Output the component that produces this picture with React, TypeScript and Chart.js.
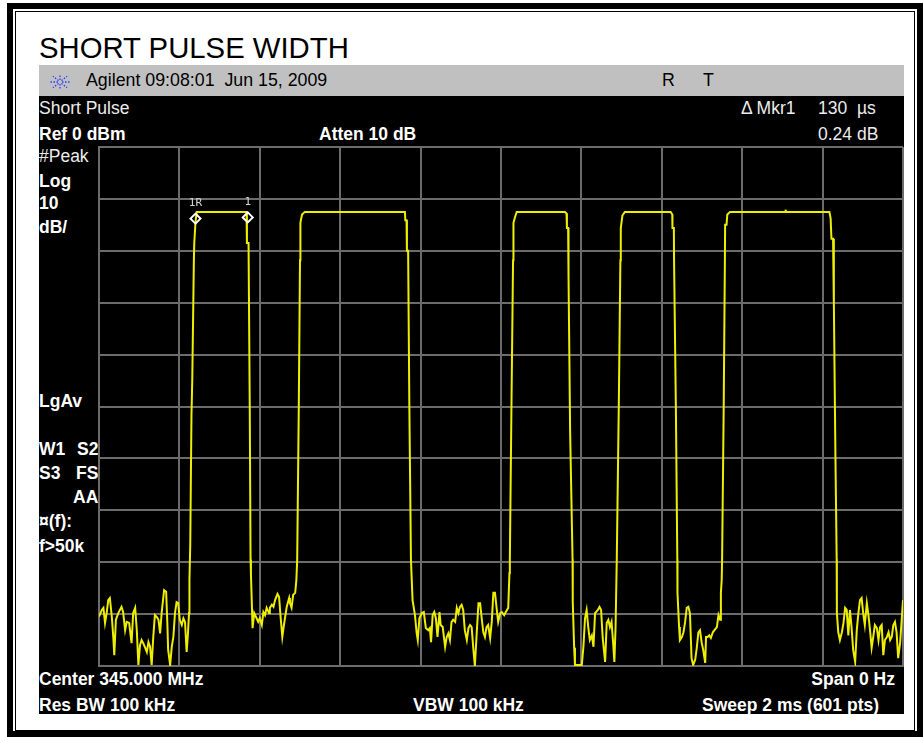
import React, { useEffect, useRef } from "react";
import { Chart, registerables } from "chart.js";

Chart.register(...registerables);

// Time axis: 0..2000 µs (Sweep 2 ms), level axis: Ref 0 dBm, 10 dB/div
const sweepUs = [0, 2000];
const levelDbm = [-100, 0];
const timeStep = 200;
const levelStep = 10;

// Noise floor segments [time µs, level dBm]
const floor1: [number, number][] = [
  [0, -90.5], [7, -89.2], [11, -88.8], [15, -91.7], [19, -89.8], [23, -87.3], [27, -86.9], [32, -90.6],
  [36, -95.0], [38, -97.9], [42, -91.1], [48, -89.8], [56, -88.6], [60, -89.6], [65, -93.1], [69, -91.5],
  [75, -91.7], [81, -95.6], [85, -89.8], [90, -88.8], [94, -93.1], [98, -99.8], [102, -96.0], [106, -95.0],
  [110, -95.6], [114, -96.3], [119, -97.3], [123, -95.4], [127, -96.3], [131, -99.8], [135, -94.4], [139, -90.2],
  [144, -90.6], [148, -91.1], [152, -93.7], [156, -89.6], [162, -85.4], [167, -85.7], [170, -91.7], [172, -96.9],
  [177, -99.8], [181, -96.3], [185, -94.4], [189, -89.8], [193, -87.7], [197, -87.9], [201, -91.1], [206, -92.1],
  [210, -90.8], [214, -91.5], [218, -97.3], [221, -94.1], [224, -89.8],
];
const pulse1: [number, number][] = [
  [225, -83.4], [227, -76.7], [230, -51.8], [232, -44.9], [236, -21.8], [237, -18.5], [240, -14.5], [243, -12.5],
  [367, -12.5], [368, -18.5], [372, -18.5], [375, -50.0], [377, -79.5], [378, -82.4],
];
const floor2: [number, number][] = [
  [382, -92.7], [386, -89.8], [392, -90.8], [396, -91.5], [400, -90.8], [405, -92.1], [409, -89.6], [413, -90.2],
  [417, -88.8], [423, -89.8], [425, -88.8], [430, -88.2], [434, -88.6], [438, -87.3], [444, -86.1], [448, -86.7],
  [452, -90.8], [456, -94.4], [460, -92.1], [467, -88.6], [473, -86.9], [475, -87.9], [479, -88.8], [483, -86.3],
  [488, -85.9],
];
const pulse2: [number, number][] = [
  [491, -83.4], [493, -79.5], [497, -50.0], [500, -21.8], [501, -14.6], [505, -13.0], [512, -12.5],
  [761, -12.5], [762, -14.1], [765, -14.1], [766, -20.0], [769, -20.0], [772, -50.0], [776, -79.5], [777, -81.5],
];
const floor3: [number, number][] = [
  [780, -87.3], [786, -90.2], [790, -93.5], [793, -95.0], [797, -90.8], [803, -89.8], [808, -89.6], [813, -92.7],
  [819, -93.1], [823, -92.7], [826, -95.4], [830, -90.2], [834, -89.6], [838, -90.8], [842, -94.4], [847, -89.6],
  [850, -92.1], [855, -92.5], [861, -96.3], [865, -94.4], [869, -93.7], [873, -95.0], [877, -91.5], [881, -91.1],
  [886, -91.5], [890, -88.8], [894, -89.8], [898, -88.6], [902, -88.2], [906, -89.2], [910, -93.1], [915, -95.0],
  [919, -92.7], [923, -92.1], [927, -92.5], [931, -96.5], [935, -100], [940, -93.1], [944, -87.9], [948, -87.9],
  [952, -90.8], [956, -93.5], [960, -94.4], [964, -92.5], [968, -92.1], [973, -94.6], [977, -91.5], [981, -85.9],
  [985, -85.9], [989, -88.8], [993, -91.5], [998, -89.8], [1002, -89.6], [1008, -90.2], [1012, -89.6], [1018, -88.8],
];
const pulse3: [number, number][] = [
  [1021, -82.1], [1022, -79.5], [1026, -50.0], [1030, -21.8], [1031, -14.6], [1035, -13.5], [1039, -12.5],
  [1159, -12.5], [1163, -12.8], [1164, -15.6], [1167, -15.6], [1168, -25.0], [1172, -55.0], [1178, -79.5], [1178.5, -87.7],
];
const floor4: [number, number][] = [
  [1182, -96.5], [1184, -99.8], [1201, -99.8], [1205, -96.3], [1209, -90.8], [1213, -89.2], [1217, -92.5], [1221, -95.0],
  [1226, -94.1], [1230, -96.3], [1234, -89.8], [1241, -89.2], [1245, -88.6], [1249, -89.2], [1253, -94.6], [1256, -96.9],
  [1259, -99.2], [1263, -91.7], [1267, -91.1], [1271, -92.5], [1275, -91.5], [1279, -95.6], [1282, -99.2], [1285, -92.5],
];
const pulse4: [number, number][] = [
  [1288, -79.5], [1293, -50.0], [1297, -21.8], [1298, -15.6], [1302, -13.2], [1308, -12.5],
  [1422, -12.5], [1426, -13.0], [1426.5, -15.6], [1430, -15.6], [1430.5, -21.8], [1435, -50.0], [1438.6, -79.5], [1439, -85.9],
];
const floor5: [number, number][] = [
  [1443, -92.5], [1445, -95.0], [1450, -94.4], [1454, -93.5], [1458, -91.5], [1462, -88.8], [1466, -88.6], [1470, -89.8],
  [1474, -98.5], [1478, -99.8], [1483, -98.8], [1487, -96.5], [1491, -93.5], [1495, -93.1], [1499, -95.4], [1503, -96.9],
  [1508, -99.4], [1510, -94.4], [1514, -94.4], [1518, -94.1], [1522, -94.6], [1527, -93.5], [1531, -93.1], [1537, -92.5],
  [1541, -90.2], [1545, -91.1], [1547, -85.9], [1549, -83.4],
];
const pulse5: [number, number][] = [
  [1550, -79.5], [1554, -50.0], [1557, -21.2], [1557.5, -15.0], [1561, -15.0], [1563, -13.0], [1570, -12.5],
  [1707, -12.5], [1708, -12.1], [1709, -12.5], [1817, -12.5], [1820, -13.8], [1822, -17.7], [1826, -17.7],
  [1828, -30.0], [1832, -60.0], [1835, -79.5],
];
const floor6: [number, number][] = [
  [1835.5, -89.8], [1839, -93.5], [1843, -95.0], [1848, -93.5], [1852, -91.7], [1856, -88.8], [1860, -89.2], [1864, -94.1],
  [1868, -89.2], [1872, -92.5], [1876, -96.9], [1881, -99.2], [1885, -93.1], [1889, -89.8], [1893, -87.3], [1897, -86.9],
  [1901, -89.8], [1905, -92.1], [1910, -87.9], [1914, -90.2], [1918, -93.1], [1922, -96.5], [1926, -94.4], [1930, -92.1],
  [1935, -92.7], [1939, -95.0], [1943, -92.5], [1947, -92.1], [1951, -97.9], [1955, -95.0], [1960, -94.4], [1964, -93.5],
  [1968, -95.0], [1972, -94.4], [1976, -92.1], [1980, -91.5], [1984, -93.5], [1988, -98.5], [1993, -95.4], [1997, -90.8],
  [2000, -87.3],
];

// Markers: 1R (reference) and 1 (delta 130 µs, 0.24 dB)
const markerNames = ["1R", "1"];
const markerTimes = [240, 370];
const markerLevels = [-13.8, -13.56];

const segments = [floor1, pulse1, floor2, pulse2, floor3, pulse3, floor4, pulse4, floor5, pulse5, floor6];

const GRID = "#6c6c6c";
const TRACE = "#eeee00";

const markerLabelPlugin = {
  id: "markerLabels",
  afterDatasetsDraw(chart: any) {
    const meta = chart.getDatasetMeta(0);
    const ctx = chart.ctx;
    ctx.save();
    ctx.font = '11px "DejaVu Sans Mono", monospace';
    ctx.fillStyle = "#d4d4d4";
    ctx.textAlign = "center";
    ctx.textBaseline = "bottom";
    meta.data.forEach((pt: any, i: number) => {
      ctx.fillText(markerNames[i], pt.x, pt.y - 10);
    });
    ctx.restore();
  },
};

type TxtProps = {
  x: number;
  b: number;
  s?: number;
  bold?: boolean;
  color?: string;
  right?: boolean;
  children: React.ReactNode;
};

function Txt({ x, b, s = 17.5, bold = false, color = "#fff", right = false, children }: TxtProps) {
  return (
    <div
      style={{
        position: "absolute",
        left: right ? undefined : x,
        right: right ? 923 - x : undefined,
        top: b - 0.8465 * s,
        fontSize: s,
        lineHeight: `${s}px`,
        fontWeight: bold ? 700 : 400,
        color,
        whiteSpace: "pre",
      }}
    >
      {children}
    </div>
  );
}

function AgilentStar() {
  const rays = [0, 45, 90, 135, 180, 225, 270, 315];
  return (
    <svg width={24} height={20} style={{ position: "absolute", left: 48, top: 72 }}>
      {rays.map((a) => {
        const r = (a * Math.PI) / 180;
        return (
          <line
            key={a}
            x1={12 + Math.cos(r) * 2}
            y1={10 + Math.sin(r) * 2}
            x2={12 + Math.cos(r) * 10}
            y2={10 + Math.sin(r) * 8}
            stroke="#2a3cff"
            strokeWidth={1.3}
            strokeDasharray="1.5 1.5"
          />
        );
      })}
    </svg>
  );
}

export default function App() {
  const ref = useRef<HTMLCanvasElement>(null);

  useEffect(() => {
    const trace = segments.flat().map(([x, y]) => ({ x, y }));
    const markers = markerTimes.map((x, i) => ({ x, y: markerLevels[i] }));
    const axisCommon = {
      grid: { color: GRID, lineWidth: 2, drawTicks: false },
      border: { color: GRID, width: 2 },
    };
    const chart = new Chart(ref.current!, {
      type: "line",
      data: {
        datasets: [
          {
            data: markers,
            showLine: false,
            pointStyle: "rectRot",
            pointRadius: 5,
            pointBorderWidth: 2,
            pointBorderColor: "#ffffff",
            pointBackgroundColor: "rgba(0,0,0,0)",
            borderColor: "#ffffff",
            order: 0,
          } as any,
          {
            data: trace,
            borderColor: TRACE,
            borderWidth: 2,
            pointRadius: 0,
            tension: 0,
            fill: false,
            order: 1,
          },
        ],
      },
      options: {
        animation: false,
        responsive: false,
        maintainAspectRatio: false,
        layout: { padding: 3, autoPadding: false },
        plugins: { legend: { display: false }, tooltip: { enabled: false } },
        scales: {
          x: {
            type: "linear",
            min: sweepUs[0],
            max: sweepUs[1],
            ...axisCommon,
            ticks: { display: false, stepSize: timeStep },
          },
          y: {
            type: "linear",
            min: levelDbm[0],
            max: levelDbm[1],
            ...axisCommon,
            ticks: { display: false, stepSize: levelStep },
          },
        },
      } as any,
      plugins: [markerLabelPlugin],
    });
    return () => chart.destroy();
  }, []);

  return (
    <div
      style={{
        position: "absolute",
        left: 0,
        top: 0,
        width: 923,
        height: 737,
        background: "#fff",
        overflow: "hidden",
        fontFamily: '"Liberation Sans", Arial, sans-serif',
      }}
    >
      {/* double frame */}
      <div style={{ position: "absolute", left: 7, top: 3, width: 916, height: 734, boxSizing: "border-box", border: "6px solid #000" }} />
      <div style={{ position: "absolute", left: 15, top: 11, width: 900, height: 720, boxSizing: "border-box", border: "1px solid #000" }} />

      <Txt x={39} b={58} s={29.3} color="#000">SHORT PULSE WIDTH</Txt>

      {/* instrument screen */}
      <div style={{ position: "absolute", left: 39, top: 65, width: 865, height: 31, background: "#c0c0c0" }} />
      <div style={{ position: "absolute", left: 39, top: 96, width: 865, height: 618, background: "#000" }} />
      <AgilentStar />
      <Txt x={86} b={87} s={17.8} color="#000">Agilent 09:08:01  Jun 15, 2009</Txt>
      <Txt x={662} b={87} s={17.8} color="#000">R</Txt>
      <Txt x={703} b={87} s={17.8} color="#000">T</Txt>

      <Txt x={39} b={115} color="#ececec">Short Pulse</Txt>
      <Txt x={741} b={115} color="#ececec">Δ Mkr1</Txt>
      <Txt x={818} b={115} color="#ececec">130  µs</Txt>
      <Txt x={39} b={141} bold>Ref 0 dBm</Txt>
      <Txt x={319} b={141} bold>Atten 10 dB</Txt>
      <Txt x={818} b={141} color="#ececec">0.24 dB</Txt>

      <Txt x={39} b={163} color="#ececec">#Peak</Txt>
      <Txt x={39} b={187.5} bold>Log</Txt>
      <Txt x={39} b={210} bold>10</Txt>
      <Txt x={39} b={234} bold>dB/</Txt>
      <Txt x={39} b={408} bold>LgAv</Txt>
      <Txt x={39} b={456} bold>W1</Txt>
      <Txt x={77} b={456} bold>S2</Txt>
      <Txt x={39} b={480} bold>S3</Txt>
      <Txt x={76} b={480} bold>FS</Txt>
      <Txt x={73} b={504} bold>AA</Txt>
      <Txt x={39} b={528} bold>¤(f):</Txt>
      <Txt x={39} b={553} bold>f&gt;50k</Txt>

      <Txt x={39} b={685.7} bold>Center 345.000 MHz</Txt>
      <Txt x={895} b={685.7} bold right>Span 0 Hz</Txt>
      <Txt x={39} b={711.7} bold>Res BW 100 kHz</Txt>
      <Txt x={413} b={711.7} bold>VBW 100 kHz</Txt>
      <Txt x={702} b={711.7} bold>Sweep 2 ms (601 pts)</Txt>

      <canvas
        ref={ref}
        width={810}
        height={525}
        style={{ position: "absolute", left: 96, top: 144, width: 810, height: 525 }}
      />
    </div>
  );
}
